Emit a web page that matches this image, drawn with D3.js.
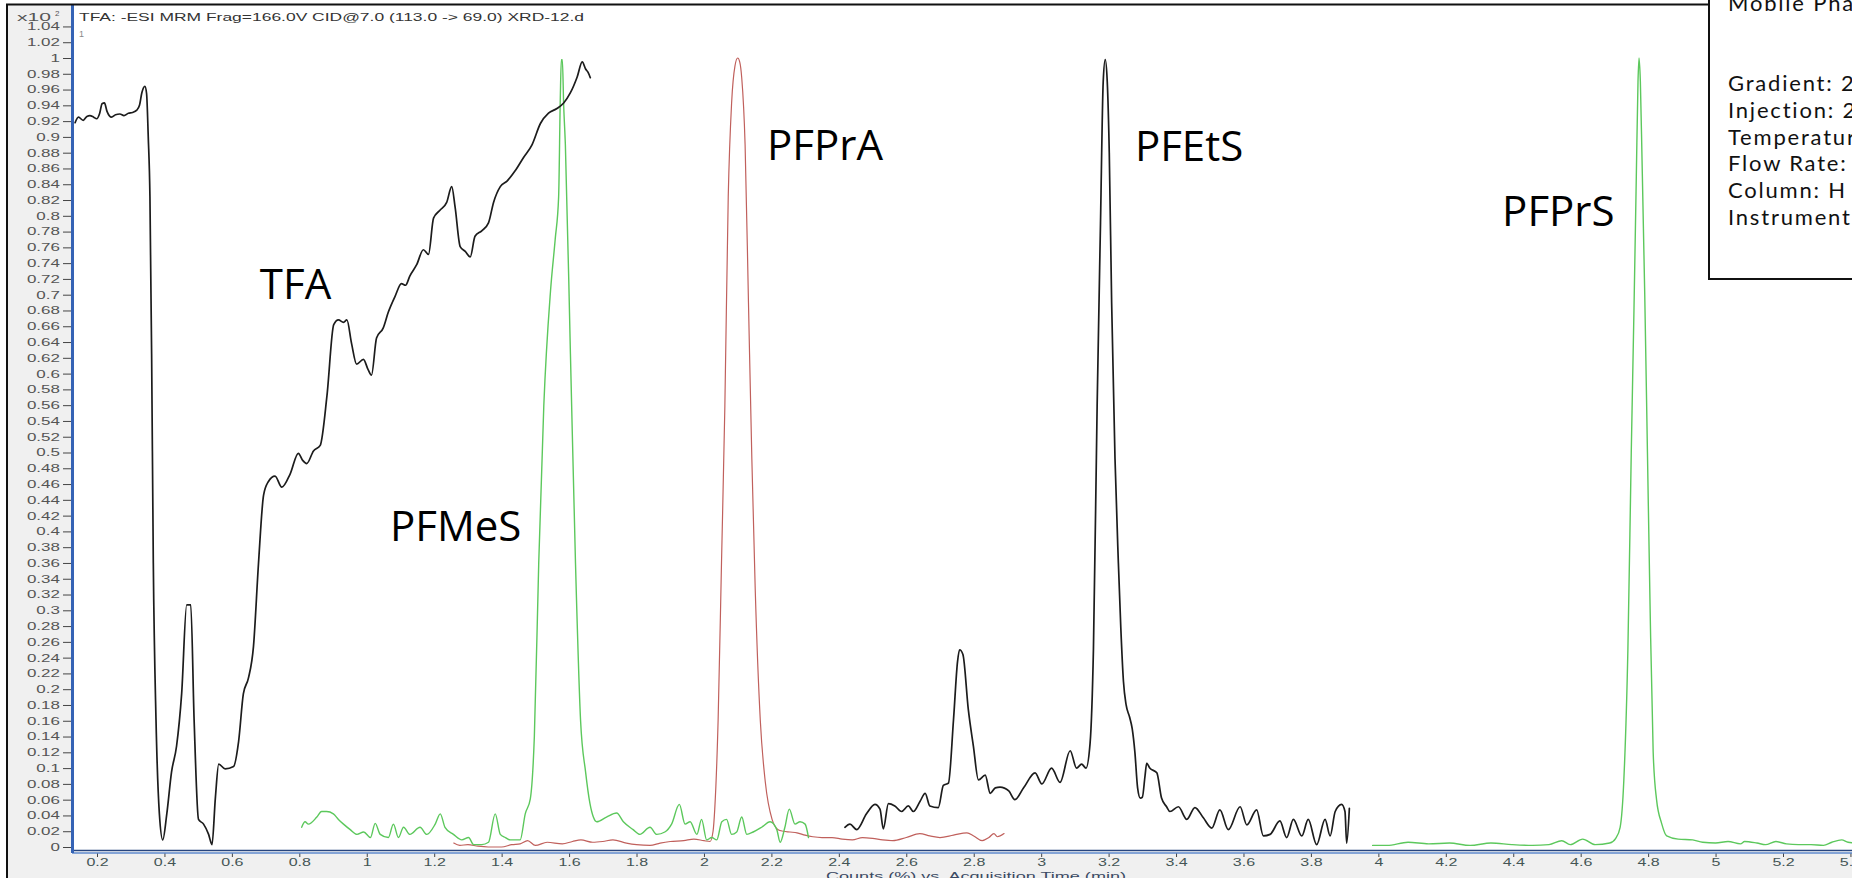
<!DOCTYPE html>
<html><head><meta charset="utf-8">
<script src="https://cdn.jsdelivr.net/npm/d3@7"></script>
<style>body{margin:0;background:#fff;overflow:hidden;} svg{display:block;}</style>
</head><body>
<svg id="chart" width="1852" height="878"></svg>
<script>
// ---- data: [acquisition time (min), counts (x10^2 %)] ----
const tfaTrace = [[0.135,0.918],[0.145,0.925],[0.159,0.921],[0.170,0.926],[0.179,0.927],[0.190,0.925],[0.199,0.923],[0.208,0.930],[0.215,0.942],[0.222,0.943],[0.230,0.932],[0.243,0.925],[0.255,0.928],[0.268,0.929],[0.280,0.927],[0.293,0.930],[0.305,0.931],[0.318,0.934],[0.326,0.940],[0.333,0.956],[0.342,0.964],[0.347,0.955],[0.352,0.900],[0.357,0.824],[0.362,0.625],[0.367,0.360],[0.375,0.161],[0.385,0.042],[0.395,0.009],[0.407,0.042],[0.421,0.095],[0.436,0.128],[0.451,0.194],[0.466,0.307],[0.478,0.307],[0.488,0.161],[0.501,0.035],[0.516,0.029],[0.531,0.016],[0.541,0.003],[0.551,0.062],[0.561,0.105],[0.580,0.099],[0.605,0.102],[0.620,0.134],[0.634,0.194],[0.649,0.214],[0.664,0.254],[0.679,0.360],[0.694,0.446],[0.708,0.463],[0.728,0.470],[0.748,0.456],[0.773,0.473],[0.797,0.499],[0.810,0.490],[0.822,0.486],[0.842,0.502],[0.862,0.509],[0.882,0.572],[0.902,0.662],[0.916,0.668],[0.931,0.665],[0.941,0.668],[0.955,0.638],[0.970,0.612],[0.990,0.618],[1.004,0.605],[1.014,0.598],[1.029,0.645],[1.049,0.658],[1.064,0.678],[1.084,0.698],[1.103,0.714],[1.115,0.712],[1.128,0.724],[1.148,0.738],[1.168,0.757],[1.183,0.751],[1.198,0.797],[1.217,0.807],[1.237,0.817],[1.252,0.837],[1.262,0.811],[1.277,0.761],[1.292,0.755],[1.307,0.748],[1.321,0.774],[1.341,0.781],[1.361,0.791],[1.376,0.817],[1.396,0.837],[1.416,0.844],[1.440,0.857],[1.465,0.874],[1.490,0.890],[1.515,0.917],[1.539,0.930],[1.564,0.936],[1.584,0.943],[1.604,0.956],[1.624,0.976],[1.639,0.995],[1.649,0.986],[1.656,0.982],[1.663,0.975]];

const pfmesTrace = [[0.807,0.025],[0.817,0.032],[0.827,0.029],[0.852,0.038],[0.866,0.045],[0.881,0.045],[0.901,0.042],[0.916,0.035],[0.931,0.029],[0.951,0.022],[0.971,0.016],[0.991,0.019],[1.011,0.012],[1.025,0.030],[1.040,0.016],[1.064,0.012],[1.079,0.029],[1.094,0.012],[1.109,0.025],[1.128,0.016],[1.158,0.025],[1.178,0.016],[1.203,0.029],[1.218,0.042],[1.232,0.025],[1.257,0.016],[1.282,0.009],[1.302,0.012],[1.317,0.003],[1.341,0.003],[1.361,0.006],[1.381,0.042],[1.396,0.016],[1.411,0.012],[1.426,0.009],[1.455,0.009],[1.470,0.042],[1.485,0.061],[1.497,0.140],[1.510,0.360],[1.525,0.559],[1.545,0.705],[1.559,0.771],[1.569,0.824],[1.574,0.950],[1.577,0.998],[1.580,0.998],[1.584,0.940],[1.589,0.890],[1.604,0.625],[1.619,0.360],[1.634,0.161],[1.649,0.095],[1.662,0.055],[1.672,0.038],[1.682,0.032],[1.711,0.038],[1.741,0.043],[1.761,0.032],[1.790,0.022],[1.810,0.016],[1.840,0.025],[1.860,0.016],[1.884,0.019],[1.904,0.029],[1.927,0.054],[1.944,0.029],[1.959,0.032],[1.979,0.016],[1.993,0.035],[2.008,0.009],[2.023,0.012],[2.038,0.009],[2.053,0.032],[2.067,0.035],[2.082,0.016],[2.097,0.019],[2.112,0.038],[2.127,0.016],[2.146,0.019],[2.171,0.025],[2.196,0.032],[2.216,0.022],[2.226,0.006],[2.240,0.025],[2.253,0.048],[2.270,0.029],[2.285,0.032],[2.300,0.029],[2.310,0.012]];

const pfpraTrace = [[1.258,0.005],[1.276,0.002],[1.300,0.003],[1.330,0.001],[1.360,0.000],[1.400,0.000],[1.430,0.003],[1.455,0.004],[1.477,0.008],[1.500,0.002],[1.535,0.006],[1.580,0.004],[1.610,0.007],[1.635,0.009],[1.670,0.006],[1.700,0.007],[1.730,0.009],[1.770,0.005],[1.800,0.003],[1.840,0.002],[1.870,0.005],[1.900,0.007],[1.940,0.008],[1.970,0.010],[2.000,0.008],[2.018,0.007],[2.027,0.020],[2.032,0.048],[2.042,0.161],[2.052,0.360],[2.062,0.559],[2.072,0.824],[2.082,0.943],[2.092,0.990],[2.100,1.000],[2.106,0.995],[2.112,0.975],[2.122,0.890],[2.132,0.690],[2.142,0.492],[2.152,0.327],[2.167,0.161],[2.182,0.082],[2.202,0.035],[2.220,0.022],[2.235,0.020],[2.255,0.019],[2.276,0.018],[2.300,0.015],[2.323,0.013],[2.350,0.012],[2.380,0.012],[2.410,0.010],[2.440,0.009],[2.470,0.012],[2.500,0.011],[2.530,0.009],[2.560,0.008],[2.600,0.012],[2.640,0.017],[2.670,0.014],[2.700,0.012],[2.740,0.015],[2.780,0.018],[2.800,0.014],[2.825,0.008],[2.845,0.012],[2.860,0.017],[2.870,0.013],[2.890,0.017]];

const pfetsTrace = [[2.418,0.025],[2.433,0.029],[2.453,0.022],[2.482,0.042],[2.507,0.054],[2.522,0.048],[2.532,0.023],[2.547,0.055],[2.566,0.052],[2.586,0.045],[2.606,0.052],[2.621,0.045],[2.641,0.058],[2.656,0.068],[2.670,0.052],[2.695,0.050],[2.710,0.078],[2.725,0.081],[2.740,0.161],[2.752,0.235],[2.758,0.250],[2.768,0.244],[2.784,0.174],[2.799,0.128],[2.814,0.085],[2.834,0.091],[2.849,0.068],[2.864,0.075],[2.878,0.076],[2.904,0.071],[2.922,0.060],[2.948,0.075],[2.982,0.094],[3.002,0.080],[3.031,0.100],[3.056,0.082],[3.086,0.122],[3.105,0.100],[3.120,0.105],[3.133,0.100],[3.145,0.131],[3.155,0.250],[3.166,0.559],[3.176,0.791],[3.184,0.970],[3.190,0.998],[3.196,0.970],[3.202,0.880],[3.209,0.690],[3.219,0.492],[3.229,0.360],[3.236,0.280],[3.244,0.210],[3.252,0.180],[3.262,0.165],[3.270,0.150],[3.278,0.120],[3.286,0.075],[3.294,0.062],[3.300,0.063],[3.308,0.090],[3.313,0.106],[3.322,0.100],[3.343,0.094],[3.357,0.062],[3.372,0.051],[3.382,0.045],[3.407,0.051],[3.432,0.035],[3.456,0.050],[3.481,0.037],[3.506,0.024],[3.530,0.047],[3.555,0.022],[3.590,0.051],[3.610,0.028],[3.639,0.047],[3.659,0.014],[3.679,0.016],[3.708,0.033],[3.728,0.012],[3.748,0.035],[3.773,0.014],[3.792,0.035],[3.817,0.003],[3.842,0.035],[3.857,0.014],[3.872,0.045],[3.891,0.054],[3.901,0.045],[3.906,0.005],[3.914,0.049]];

const pfprsTrace = [[3.983,0.002],[4.026,0.002],[4.088,0.006],[4.149,0.004],[4.211,0.005],[4.272,0.002],[4.334,0.005],[4.396,0.003],[4.457,0.002],[4.506,0.003],[4.544,0.008],[4.569,0.003],[4.606,0.010],[4.643,0.003],[4.686,0.005],[4.704,0.011],[4.717,0.025],[4.728,0.085],[4.740,0.250],[4.750,0.500],[4.758,0.680],[4.765,0.850],[4.770,0.970],[4.773,1.000],[4.777,0.970],[4.782,0.870],[4.790,0.700],[4.798,0.500],[4.806,0.300],[4.815,0.120],[4.825,0.060],[4.840,0.030],[4.855,0.014],[4.889,0.010],[4.932,0.009],[4.962,0.006],[5.000,0.005],[5.037,0.007],[5.074,0.004],[5.086,0.007],[5.123,0.005],[5.148,0.003],[5.179,0.007],[5.210,0.004],[5.246,0.003],[5.283,0.003],[5.320,0.002],[5.345,0.006],[5.374,0.009],[5.393,0.006],[5.420,0.005]];

const yTickValues = d3.range(0, 53).map(i => +(i * 0.02).toFixed(2));
const xTickValues = d3.range(1, 28).map(i => +(i * 0.2).toFixed(1));

const peakNames = ["TFA", "PFMeS", "PFPrA", "PFEtS", "PFPrS"];
const peakLabelTime = [0.683, 1.069, 2.187, 3.278, 4.367];
const peakLabelCount = [0.6946, 0.388, 0.8707, 0.8695, 0.787];

const chartTitle = "TFA: -ESI MRM Frag=166.0V CID@7.0 (113.0 -> 69.0) XRD-12.d";
const xAxisTitle = "Counts (%) vs. Acquisition Time (min)";
const infoLines = ["Mobile Phase", "", "", "Gradient: 2", "Injection: 2", "Temperature", "Flow Rate:", "Column: H", "Instrument"];

// ---- drawing ----
const W = 1852, H = 878;
const svg = d3.select("#chart");
const x = d3.scaleLinear().domain([0.2, 5.2]).range([97, 1783]);
const y = d3.scaleLinear().domain([0, 1]).range([847, 58]);

svg.append("rect").attr("width", W).attr("height", H).attr("fill", "#fff");
// grey axis bands
svg.append("rect").attr("x", 8).attr("y", 5).attr("width", 63).attr("height", H).attr("fill", "#f0f0f0");
svg.append("rect").attr("x", 8).attr("y", 854).attr("width", W).attr("height", 30).attr("fill", "#f0f0f0");

// Y axis
const yAxis = svg.append("g").attr("transform", "translate(71,0)")
  .call(d3.axisLeft(y).tickValues(yTickValues).tickSize(8).tickFormat(d => String(+d.toFixed(2))));
yAxis.select(".domain").remove();
yAxis.selectAll(".tick line").attr("stroke", "#444").attr("stroke-width", 1);
yAxis.selectAll(".tick text")
  .attr("x", 0).attr("dy", "0.34em")
  .attr("transform", "translate(-11,0) scale(1.7,1)")
  .attr("text-anchor", "end")
  .attr("fill", "#555")
  .style("font-family", "'Liberation Sans', Arial, sans-serif").style("font-size", "10px");

// X axis
const xAxis = svg.append("g").attr("transform", "translate(0,853)")
  .call(d3.axisBottom(x).tickValues(xTickValues).tickSize(4).tickFormat(d => String(+d.toFixed(1))));
xAxis.select(".domain").remove();
xAxis.selectAll(".tick line").attr("stroke", "#444");
xAxis.selectAll(".tick text")
  .attr("y", 0).attr("dy", null)
  .attr("transform", "translate(0,13) scale(1.6,1)")
  .attr("fill", "#455")
  .style("font-family", "'Liberation Sans', Arial, sans-serif").style("font-size", "10px");

// axis lines
svg.append("line").attr("x1", 72).attr("x2", W).attr("y1", 850.5).attr("y2", 850.5).attr("stroke", "#27457e").attr("stroke-width", 1.3);
svg.append("line").attr("x1", 72).attr("x2", W).attr("y1", 853).attr("y2", 853).attr("stroke", "#5b86c8").attr("stroke-width", 1.5);
svg.append("line").attr("x1", 72.5).attr("x2", 72.5).attr("y1", 5).attr("y2", 853).attr("stroke", "#3563b5").attr("stroke-width", 3);

// outer frame
svg.append("line").attr("x1", 7).attr("x2", 7).attr("y1", 4).attr("y2", H).attr("stroke", "#111").attr("stroke-width", 2);
svg.append("line").attr("x1", 6).attr("x2", W).attr("y1", 4.5).attr("y2", 4.5).attr("stroke", "#111").attr("stroke-width", 2);

// header texts
const axFont = "'Liberation Sans', Arial, sans-serif";
svg.append("text").attr("x", 79).attr("y", 21).text(chartTitle)
  .attr("textLength", 505).attr("lengthAdjust", "spacingAndGlyphs")
  .attr("fill", "#333").style("font-family", axFont).style("font-size", "10px");
svg.append("text").attr("x", 17).attr("y", 21).text("x10")
  .attr("textLength", 34).attr("lengthAdjust", "spacingAndGlyphs")
  .attr("fill", "#555").style("font-family", axFont).style("font-size", "10px");
svg.append("text").attr("x", 55).attr("y", 16).text("2")
  .attr("fill", "#555").style("font-family", axFont).style("font-size", "8px");
svg.append("text").attr("x", 79).attr("y", 37).text("1")
  .attr("fill", "#888").style("font-family", axFont).style("font-size", "9px");
svg.append("text").attr("x", 976).attr("y", 880).attr("text-anchor", "middle").text(xAxisTitle)
  .attr("textLength", 300).attr("lengthAdjust", "spacingAndGlyphs")
  .attr("fill", "#3b4a63").style("font-family", axFont).style("font-size", "11px");

// traces
svg.append("clipPath").attr("id", "plotclip").append("rect")
  .attr("x", 74).attr("y", 6).attr("width", W - 74).attr("height", 844);
const line = d3.line().x(d => x(d[0])).y(d => y(d[1])).curve(d3.curveMonotoneX);
const traces = svg.append("g").attr("clip-path", "url(#plotclip)").attr("fill", "none")
  .attr("stroke-linejoin", "round").attr("stroke-linecap", "round");
traces.append("path").datum(pfpraTrace).attr("d", line).attr("stroke", "#c0605c").attr("stroke-width", 1.2);
traces.append("path").datum(pfmesTrace).attr("d", line).attr("stroke", "#5cc85c").attr("stroke-width", 1.4);
traces.append("path").datum(pfprsTrace).attr("d", line).attr("stroke", "#5cc85c").attr("stroke-width", 1.4);
traces.append("path").datum(tfaTrace).attr("d", line).attr("stroke", "#1c1c1c").attr("stroke-width", 1.7);
traces.append("path").datum(pfetsTrace).attr("d", line).attr("stroke", "#1c1c1c").attr("stroke-width", 1.7);

// peak labels
svg.append("g").selectAll("text").data(peakNames).join("text")
  .attr("x", (d, i) => x(peakLabelTime[i]))
  .attr("y", (d, i) => y(peakLabelCount[i]))
  .text(d => d)
  .attr("fill", "#000")
  .style("font-family", "'Open Sans', 'Noto Sans', sans-serif").style("font-size", "42px");

// info box
svg.append("rect").attr("x", 1709).attr("y", -20).attr("width", 300).attr("height", 299)
  .attr("fill", "#fff").attr("stroke", "#111").attr("stroke-width", 2);
svg.append("g").selectAll("text").data(infoLines).join("text")
  .attr("x", 1728).attr("y", (d, i) => 11 + i * 26.7)
  .text(d => d)
  .attr("fill", "#111")
  .style("font-family", "Lato, 'Open Sans', sans-serif").style("font-size", "22px")
  .style("letter-spacing", "1.8px");
</script>
</body></html>
